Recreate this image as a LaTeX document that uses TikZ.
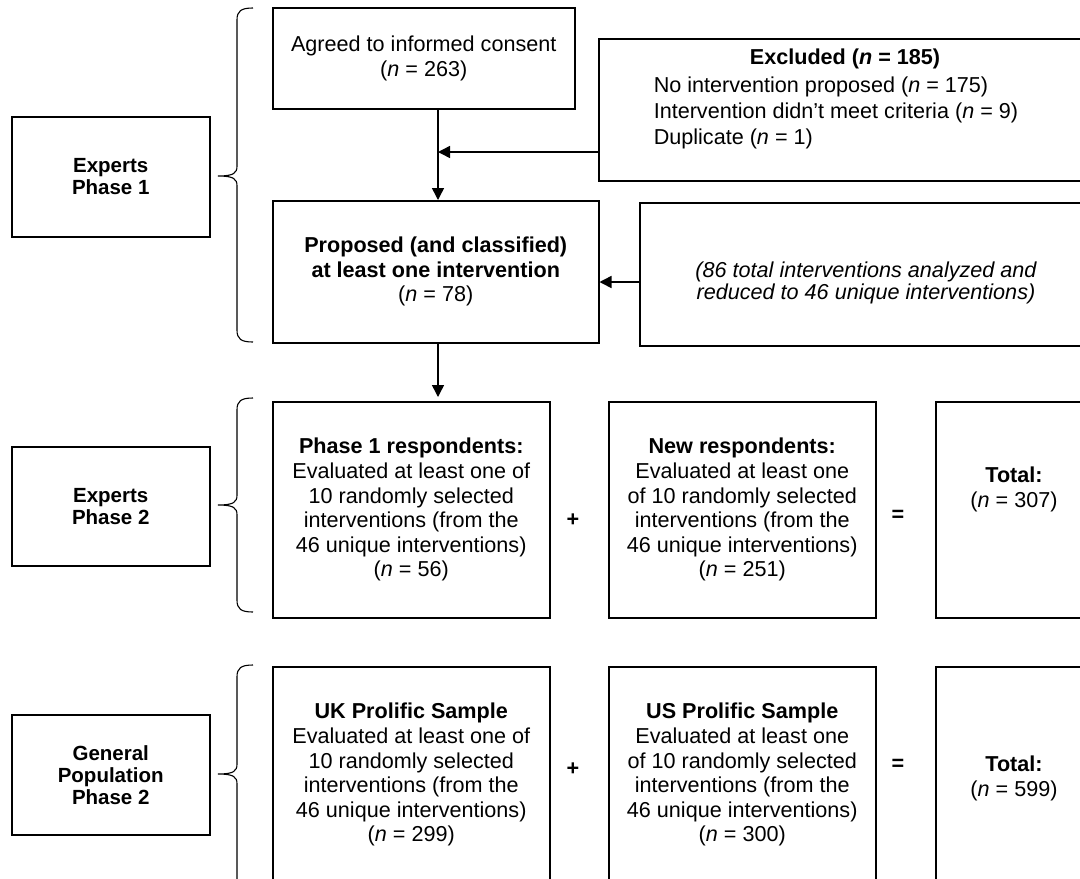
\documentclass[tikz,border=0pt]{standalone}
\usepackage{fontspec}
\setmainfont{Liberation Sans}
\usetikzlibrary{arrows.meta}

\newcommand{\phasebrace}[3]{%
  \draw[line width=1.1pt] (253,#1) .. controls (241,#1) and (237,#1+3) .. (237,#1+12)
    -- (237,#2-10) .. controls (237,#2-3) and (234,#2) .. (218,#2)
    .. controls (234,#2) and (237,#2+3) .. (237,#2+10)
    -- (237,#3-12) .. controls (237,#3-3) and (241,#3) .. (253,#3);}

\begin{document}
\begin{tikzpicture}[x=1pt, y=-1pt, line width=1.5pt,
    every node/.style={font=\fontsize{21.6}{24.6}\selectfont},
    box/.style={draw, anchor=north west, inner sep=0pt, align=center},
    phasebox/.style={box, minimum width=198pt, font=\fontsize{20.5}{22}\selectfont\bfseries},
    flow/.style={-{Triangle[length=12pt,width=12pt]}}]
    \useasboundingbox (0,0) rectangle (1080,879);
    \clip (0,0) rectangle (1080,879);

    \node[phasebox, minimum height=120pt] (ep1) at (11,116) {Experts\\Phase 1};
    \node[phasebox, minimum height=119pt] (ep2) at (11,446) {Experts\\Phase 2};
    \node[phasebox, minimum height=120pt] (gp2) at (11,714) {General\\Population\\Phase 2};
    \phasebrace{8}{176}{342}
    \phasebrace{398}{505}{612}
    \phasebrace{665}{774}{892}

    \node[box, minimum width=302pt, minimum height=101pt] (agreed) at (272,7)
        {Agreed to informed consent\\(\textit{n} = 263)};
    \node[box, minimum width=495pt, minimum height=142pt] (excl) at (598,38) {};
    \node (exclhead) at (845,59) {\textbf{Excluded (\textit{n} = 185)}};
    \node[anchor=west, align=left, inner sep=0pt, font=\fontsize{21.6}{26}\selectfont] (excllist) at (653,112.5)
        {No intervention proposed (\textit{n} = 175)\\Intervention didn’t meet criteria (\textit{n} = 9)\\Duplicate (\textit{n} = 1)};
    \node[box, minimum width=326pt, minimum height=142pt] (prop) at (272,200)
        {\textbf{Proposed (and classified)}\\\textbf{at least one intervention}\\(\textit{n} = 78)};
    \node[box, minimum width=454pt, minimum height=143pt] (interv) at (639,202) {};
    \node[align=center, font=\fontsize{21.6}{22.5}\selectfont\itshape] (intervtxt) at (866,283)
        {(86 total interventions analyzed and\\reduced to 46 unique interventions)};

    \node[box, minimum width=277pt, minimum height=216pt] (p1resp) at (272,401)
        {\textbf{Phase 1 respondents:}\\Evaluated at least one of\\10 randomly selected\\interventions (from the\\46 unique interventions)\\(\textit{n} = 56)};
    \node[box, minimum width=267pt, minimum height=216pt] (newresp) at (608,401)
        {\textbf{New respondents:}\\Evaluated at least one\\of 10 randomly selected\\interventions (from the\\46 unique interventions)\\(\textit{n} = 251)};
    \node[box, minimum width=158pt, minimum height=216pt] (tot1) at (935,401) {};
    \node[align=center] (tot1txt) at (1014,489.5) {\textbf{Total:}\\(\textit{n} = 307)};

    \node[box, minimum width=277pt, minimum height=216pt] (uk) at (272,666)
        {\textbf{UK Prolific Sample}\\Evaluated at least one of\\10 randomly selected\\interventions (from the\\46 unique interventions)\\(\textit{n} = 299)};
    \node[box, minimum width=267pt, minimum height=216pt] (us) at (608,666)
        {\textbf{US Prolific Sample}\\Evaluated at least one\\of 10 randomly selected\\interventions (from the\\46 unique interventions)\\(\textit{n} = 300)};
    \node[box, minimum width=158pt, minimum height=216pt] (tot2) at (935,666) {};
    \node[align=center] (tot2txt) at (1014,778.5) {\textbf{Total:}\\(\textit{n} = 599)};

    \foreach \r/\y in {a/520, b/769} {
        \node[font=\fontsize{21.6}{24.6}\selectfont\bfseries] (plus\r) at (573,\y) {+};
        \node[font=\fontsize{21.6}{24.6}\selectfont\bfseries] (equals\r) at (898,\y-4) {=};
    }

    \coordinate (spine) at (438,0);
    \coordinate (exclin) at (438,152);
    \coordinate (intervin) at (0,282);
    \draw[flow] (agreed.south -| spine) -- (prop.north -| spine);
    \draw[flow] (excl.west |- exclin) -- (exclin);
    \draw[flow] (interv.west |- intervin) -- (prop.east |- intervin);
    \draw[flow, shorten >=4pt] (prop.south -| spine) -- (p1resp.north -| spine);
\end{tikzpicture}
\end{document}
